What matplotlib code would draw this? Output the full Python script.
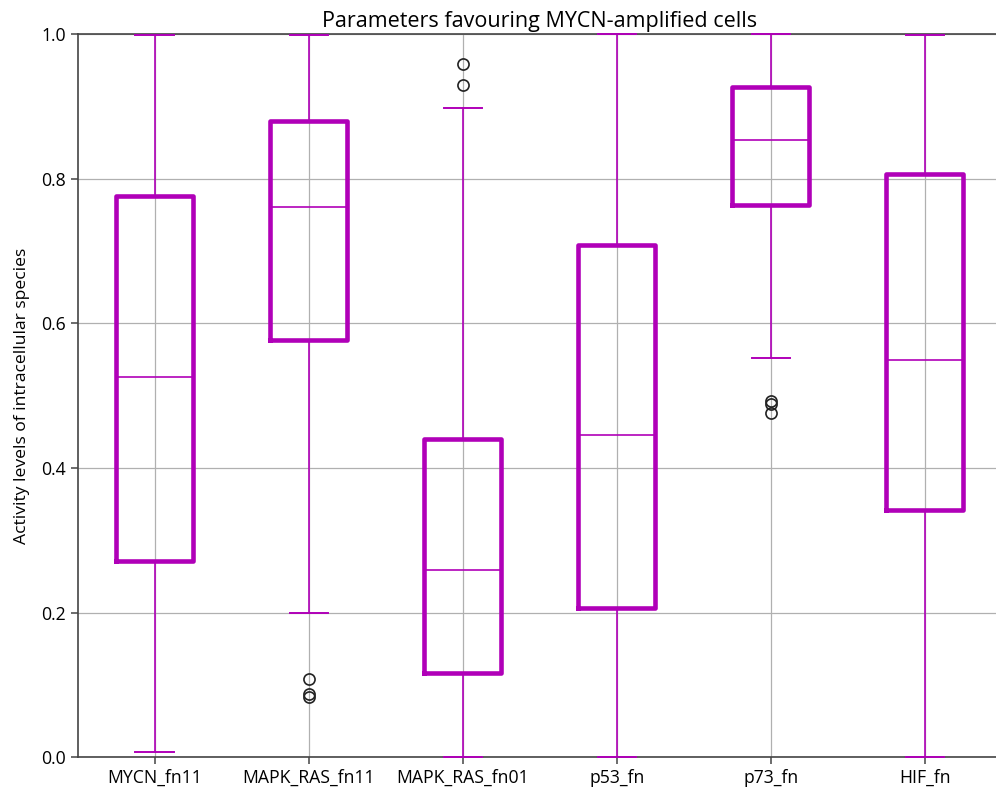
import matplotlib.pyplot as plt

plt.rcParams['font.family'] = ['Open Sans', 'DejaVu Sans']

names = ["MYCN_fn11", "MAPK_RAS_fn11", "MAPK_RAS_fn01", "p53_fn", "p73_fn", "HIF_fn"]
whislo = [0.007, 0.199, 0.001, 0.001, 0.552, 0.001]
q1 = [0.272, 0.577, 0.116, 0.207, 0.763, 0.342]
med = [0.526, 0.761, 0.259, 0.445, 0.853, 0.549]
q3 = [0.776, 0.880, 0.440, 0.708, 0.927, 0.806]
whishi = [0.999, 0.999, 0.898, 1.0, 1.0, 0.999]
fliers = [[], [0.108, 0.088, 0.083], [0.959, 0.929], [], [0.492, 0.488, 0.476], []]

stats = []
for i in range(len(names)):
    stats.append(dict(label=names[i], whislo=whislo[i], q1=q1[i], med=med[i],
                      q3=q3[i], whishi=whishi[i], fliers=fliers[i]))

fig = plt.figure(figsize=(9.96, 7.88), dpi=100)
ax = fig.add_axes([0.078, 0.039, 0.928, 0.918])

col = '#b000b8'
# caps sit on top of the spines where whiskers reach 0 or 1
ax.bxp(stats, positions=range(1, 7), widths=0.5,
       boxprops=dict(color=col, linewidth=3.3),
       medianprops=dict(color=col, linewidth=1.2),
       whiskerprops=dict(color=col, linewidth=1.2),
       capprops=dict(color=col, linewidth=1.4, zorder=3, clip_on=False),
       flierprops=dict(marker='o', markerfacecolor='none', markeredgecolor='#222222',
                       markersize=8, markeredgewidth=1.2))

ax.set_xlim(0.5, 6.5)
ax.set_ylim(0, 1)
ax.grid(True, color='#b0b0b0', linewidth=0.9)
ax.set_axisbelow(True)
for s in ax.spines.values():
    s.set_color('#444444')
    s.set_linewidth(1.2)
ax.tick_params(labelsize=12.7, color='#444444', width=1.1, length=5)
ax.set_ylabel("Activity levels of intracellular species", fontsize=12.6, labelpad=8)
ax.set_title("Parameters favouring MYCN-amplified cells", fontsize=15.5, pad=5)

fig.savefig("out.png", dpi=100)
